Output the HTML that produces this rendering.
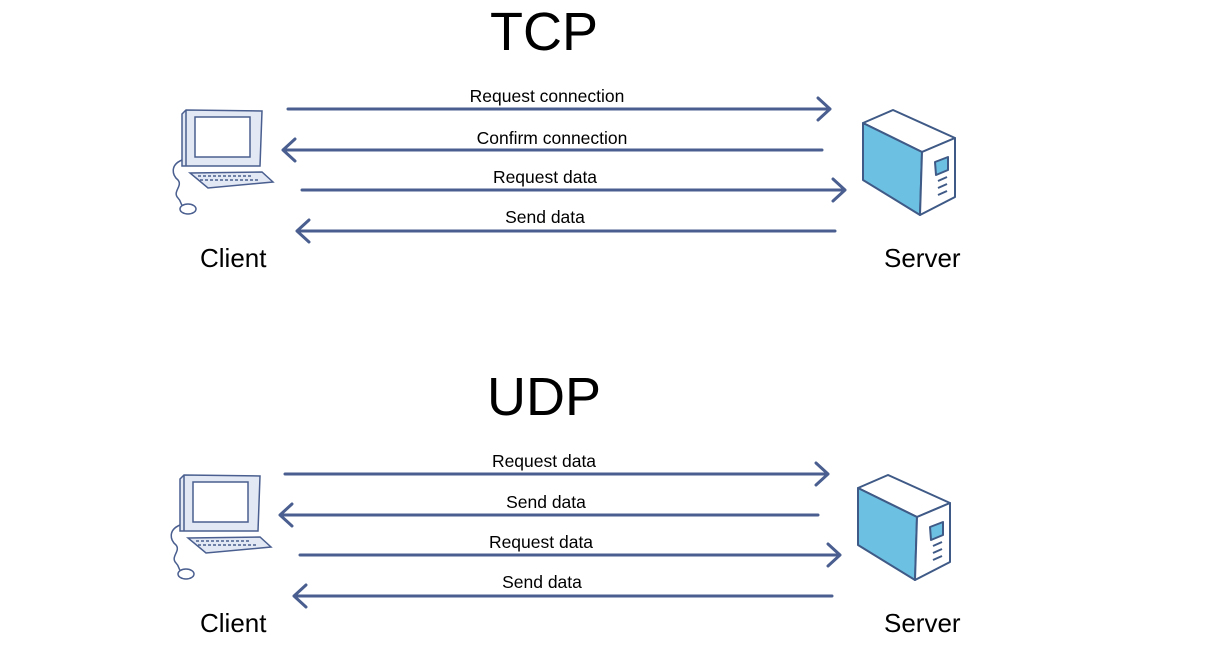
<!DOCTYPE html>
<html><head><style>
body{margin:0;background:#fff;width:1210px;height:647px;overflow:hidden}
</style></head><body>
<svg width="1210" height="647" xmlns="http://www.w3.org/2000/svg" font-family="Liberation Sans, sans-serif">
<defs>
<g id="pc" stroke="#4a5f8f" stroke-width="1.5" fill="none">
 <path d="M182,114 L186,110 L262,111 L260,166 L182,166 Z" fill="#e3e8f5"/>
 <path d="M186,110 L186,166" />
 <rect x="195" y="117" width="55" height="40" fill="#fff"/>
 <path d="M190,173 L262,172 L273,182 L208,188 Z" fill="#e3e8f5"/>
 <path d="M198,176 h55 M200,180 h58" stroke-dasharray="3,2"/>
 <path d="M182,160 C170,165 172,175 178,180 C183,186 172,192 178,198 C182,202 180,205 184,207"/>
 <ellipse cx="188" cy="209" rx="8" ry="5" fill="#fff"/>
</g>
<g id="srv" stroke="#3f5a86" stroke-width="2" stroke-linejoin="round">
 <path d="M863,123 L893,110 L955,138 L922,152 Z" fill="#fff"/>
 <path d="M863,123 L922,152 L920,215 L863,180 Z" fill="#6cc0e2"/>
 <path d="M922,152 L955,138 L955,197 L920,215 Z" fill="#fff"/>
 <path d="M935,162 L948,157 L948,170 L936,175 Z" fill="#6cc0e2"/>
 <path d="M938,181 l9,-4 M938,188 l9,-4 M938,195 l9,-4" fill="none"/>
</g>
</defs>
<g font-size="54" text-anchor="middle" fill="#000">
 <text x="544" y="50">TCP</text>
 <text x="544" y="415">UDP</text>
</g>
<g font-size="26" fill="#000">
 <text x="200" y="267">Client</text><text x="884" y="267">Server</text>
 <text x="200" y="632">Client</text><text x="884" y="632">Server</text>
</g>
<use href="#pc"/>
<use href="#srv"/>
<use href="#pc" transform="translate(-2,365)"/>
<use href="#srv" transform="translate(-5,365)"/>
<g stroke="#4a5f8f" stroke-width="3" fill="none" stroke-linecap="round" stroke-linejoin="round">
 <path d="M288,109 H830 M818,98 L830,109 L818,120"/>
 <path d="M283,150 H822 M295,139 L283,150 L295,161"/>
 <path d="M302,190 H845 M833,179 L845,190 L833,201"/>
 <path d="M297,231 H835 M309,220 L297,231 L309,242"/>
 <path d="M285,474 H828 M816,463 L828,474 L816,485"/>
 <path d="M280,515 H818 M292,504 L280,515 L292,526"/>
 <path d="M300,555 H840 M828,544 L840,555 L828,566"/>
 <path d="M294,596 H832 M306,585 L294,596 L306,607"/>
</g>
<g font-size="17.5" text-anchor="middle" fill="#000">
 <text x="547" y="102">Request connection</text>
 <text x="552" y="144">Confirm connection</text>
 <text x="545" y="183">Request data</text>
 <text x="545" y="223">Send data</text>
 <text x="544" y="467">Request data</text>
 <text x="546" y="508">Send data</text>
 <text x="541" y="548">Request data</text>
 <text x="542" y="588">Send data</text>
</g>
</svg>
</body></html>
